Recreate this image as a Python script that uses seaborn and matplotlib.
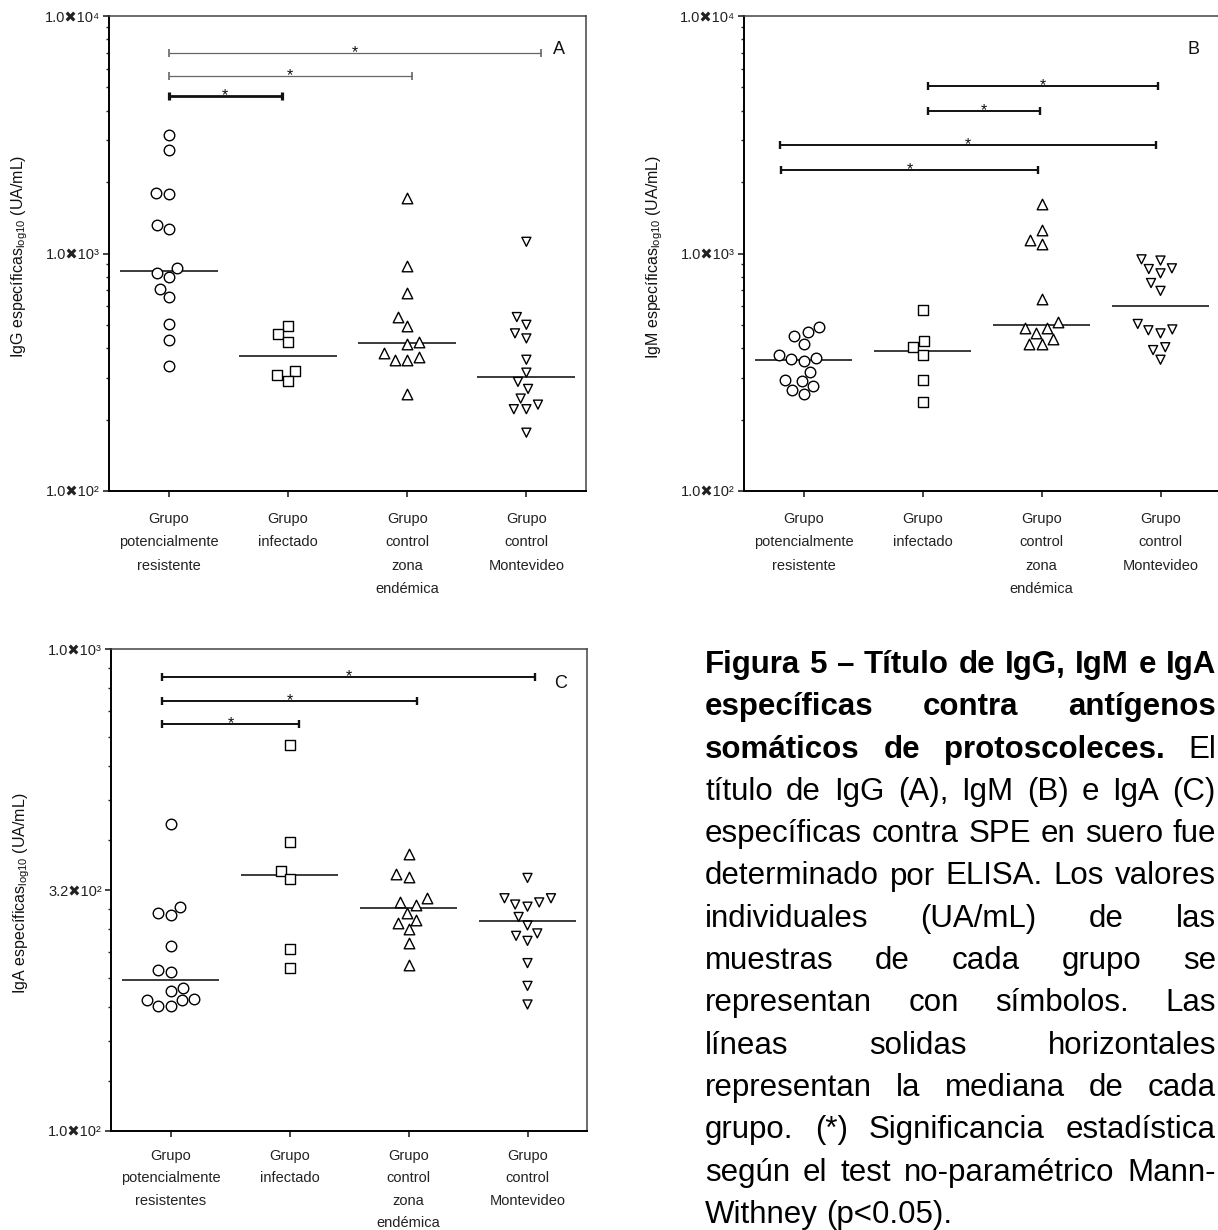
import numpy as np
import matplotlib
matplotlib.use("Agg")
import matplotlib.pyplot as plt
from matplotlib.ticker import FixedLocator, LogLocator, NullFormatter
import seaborn as sns


# DATA  (UA/mL)

GROUPS = [
    "Grupo\npotencialmente\nresistente",
    "Grupo\ninfectado",
    "Grupo\ncontrol\nzona\nendémica",
    "Grupo\ncontrol\nMontevideo",
]
GROUPS_C = [
    "Grupo\npotencialmente\nresistentes",
    "Grupo\ninfectado",
    "Grupo\ncontrol\nzona\nendémica",
    "Grupo\ncontrol\nMontevideo",
]

igg_resistente = [3150, 2720, 1795, 1785, 1320, 1270, 866, 828, 794, 707, 653, 505, 434, 335]
igg_infectado = [496, 456, 423, 319, 307, 290]
igg_endemica = [1720, 890, 683, 538, 496, 426, 417, 382, 366, 357, 357, 257]
igg_montevideo = [1120, 540, 501, 461, 439, 357, 315, 288, 269, 245, 231, 221, 221, 176]

igm_resistente = [492, 465, 451, 417, 373, 364, 359, 354, 316, 294, 290, 276, 267, 256]
igm_infectado = [576, 428, 403, 373, 292, 236]
igm_endemica = [1609, 1254, 1137, 1099, 645, 514, 488, 488, 461, 436, 417, 415]
igm_montevideo = [945, 934, 866, 860, 825, 751, 696, 505, 479, 475, 461, 403, 392, 357]

iga_resistente = [434, 291, 283, 280, 242, 216, 214, 198, 195, 188, 187, 187, 182, 182]
iga_infectado = [632, 397, 347, 333, 239, 218]
iga_endemica = [376, 341, 336, 304, 298, 295, 284, 274, 270, 262, 245, 221]
iga_montevideo = [335, 304, 304, 298, 295, 292, 278, 267, 257, 254, 248, 223, 200, 183]

# significance brackets: (from, to, height)
sig_igg = [(0.0, 0.95, 4590), (0.0, 2.04, 5590), (0.0, 3.12, 6960)]
sig_igm = [(1.05, 2.98, 5070), (1.05, 1.99, 3970), (-0.20, 2.96, 2870), (-0.19, 1.97, 2250)]
sig_iga = [(-0.07, 3.06, 875), (-0.07, 2.07, 781), (-0.07, 1.08, 700)]

YT_AB = [1e2, 1e3, 1e4]
YTL_AB = ["1.0✖10²", "1.0✖10³", "1.0✖10⁴"]
YT_C = [100, 316.2, 1000]
YTL_C = ["1.0✖10²", "3.2✖10²", "1.0✖10³"]

CAPTION = [
    ("Figura 5 – Título de IgG, IgM e IgA", ""),
    ("específicas contra antígenos", ""),
    ("somáticos de protoscoleces.", "El"),
    ("", "título de IgG (A), IgM (B) e IgA (C)"),
    ("", "específicas contra SPE en suero fue"),
    ("", "determinado por ELISA. Los valores"),
    ("", "individuales (UA/mL) de las"),
    ("", "muestras de cada grupo se"),
    ("", "representan con símbolos. Las"),
    ("", "líneas solidas horizontales"),
    ("", "representan la mediana de cada"),
    ("", "grupo. (*) Significancia estadística"),
    ("", "según el test no-paramétrico Mann-"),
    ("", "Withney (p<0.05)."),
]


# STYLE

MARKERS = ["o", "s", "^", "v"]
MARKER_S = {"o": 30, "s": 28, "^": 42, "v": 42}

sns.set_style("ticks")
plt.rcParams["font.family"] = ["Liberation Sans", "DejaVu Sans"]
plt.rcParams["mathtext.fontset"] = "custom"
plt.rcParams["mathtext.rm"] = "Liberation Sans"
plt.rcParams["mathtext.default"] = "regular"

W, H = 1218, 1230
fig = plt.figure(figsize=(W / 100, H / 100), dpi=100)


def px_axes(left, top, right, bottom):
    return fig.add_axes([left / W, 1 - bottom / H, (right - left) / W, (bottom - top) / H])


swarms = []


def draw_panel(ax, groups, series, ylim, yticks, yticklabels, yminor, ylabel,
               sigs, sig_lw, sig_col, letter):
    ax.set_yscale("log")
    for i, (name, vals, mk) in enumerate(zip(groups, series, MARKERS)):
        sns.swarmplot(x=[name] * len(vals), y=vals, order=groups, ax=ax,
                      marker=mk, size=7.6, linewidth=1.0, color="white",
                      edgecolor="black", zorder=3)
        swarms.append((ax.collections[-1], mk))
        ax.hlines(np.median(vals), i - 0.41, i + 0.41, color="#1a1a1a", lw=1.2, zorder=2)

    # significance brackets
    for (x0, x1, y), lw, col in zip(sigs, sig_lw, sig_col):
        ax.plot([x0, x1], [y, y], color=col, lw=lw, solid_capstyle="butt")
        ax.plot([x0, x1], [y, y], ls="none", marker="|", ms=6, mew=lw + 0.3, color=col)
        ax.annotate("*", ((x0 + x1) / 2, y), xytext=(0, -3), textcoords="offset points",
                    ha="center", va="baseline", fontsize=11.5, color="#111")

    ax.set_xlim(-0.5, 3.5)
    ax.set_ylim(*ylim)
    ax.yaxis.set_major_locator(FixedLocator(yticks))
    ax.set_yticklabels(yticklabels)
    ax.yaxis.set_minor_locator(yminor)
    ax.yaxis.set_minor_formatter(NullFormatter())
    ax.set_xticks(range(len(groups)))
    ax.set_xticklabels(groups, linespacing=1.85)
    ax.set_xlabel("")
    ax.set_ylabel(ylabel, fontsize=11.5, color="#111")
    ax.yaxis.set_label_coords(-0.165, 0.493)

    ax.tick_params(axis="y", which="major", direction="out", length=4.5, width=1.2,
                   labelsize=10.5, pad=2, labelcolor="#222")
    ax.tick_params(axis="y", which="minor", direction="out", length=2.5, width=1.0)
    ax.tick_params(axis="x", direction="out", length=4, width=1.2, labelsize=10.5,
                   pad=11, labelcolor="#222")
    for side in ["top", "right"]:
        ax.spines[side].set_color("#444")
        ax.spines[side].set_linewidth(1.1)
    for side in ["left", "bottom"]:
        ax.spines[side].set_color("black")
        ax.spines[side].set_linewidth(1.4)

    ax.text(0.944, 0.929, letter, transform=ax.transAxes, fontsize=13,
            ha="center", va="center", color="#111")


# PANELS

ax_a = px_axes(109, 16, 586, 491)
draw_panel(ax_a, GROUPS,
           [igg_resistente, igg_infectado, igg_endemica, igg_montevideo],
           (1e2, 1e4), YT_AB, YTL_AB, LogLocator(base=10, subs=np.arange(2, 10)),
           "IgG específicas$_{log10}$ (UA/mL)",
           sig_igg, [2.0, 0.9, 0.9], ["#111", "#666", "#666"], "A")

ax_b = px_axes(744, 16, 1220, 491)
draw_panel(ax_b, GROUPS,
           [igm_resistente, igm_infectado, igm_endemica, igm_montevideo],
           (1e2, 1e4), YT_AB, YTL_AB, LogLocator(base=10, subs=np.arange(2, 10)),
           "IgM específicas$_{log10}$ (UA/mL)",
           sig_igm, [1.4] * 4, ["#111"] * 4, "B")

minor_c = np.concatenate([np.linspace(YT_C[0], YT_C[1], 9)[1:-1],
                          np.linspace(YT_C[1], YT_C[2], 9)[1:-1]])
ax_c = px_axes(111, 649, 587, 1131)
draw_panel(ax_c, GROUPS_C,
           [iga_resistente, iga_infectado, iga_endemica, iga_montevideo],
           (100, 1000), YT_C, YTL_C, FixedLocator(minor_c),
           "IgA específicas$_{log10}$ (UA/mL)",
           sig_iga, [1.4] * 3, ["#111"] * 3, "C")
# keep the last label line of C inside the canvas
ax_c.tick_params(axis="x", pad=9)
ax_c.set_xticklabels(GROUPS_C, linespacing=1.75)


# CAPTION (justified, words placed one by one)

CAP_FS = 22.5
cap_left, cap_right = 705, 1216
cap_base0, cap_step = 673, 42.3

renderer = fig.canvas.get_renderer()
space_px = 0.278 * CAP_FS * 100 / 72
for i, (bold_part, reg_part) in enumerate(CAPTION):
    words = [(w, "bold") for w in bold_part.split()] + [(w, "normal") for w in reg_part.split()]
    y = 1 - (cap_base0 + i * cap_step) / H
    arts = [fig.text(0, y, w, fontsize=CAP_FS, fontweight=fw, va="baseline", ha="left",
                     color="black") for w, fw in words]
    widths = [a.get_window_extent(renderer).width for a in arts]
    if i < len(CAPTION) - 1 and len(arts) > 1:
        gap = (cap_right - cap_left - sum(widths)) / (len(arts) - 1)
    else:
        gap = space_px
    x = cap_left
    for a, w in zip(arts, widths):
        a.set_x(x / W)
        x += w + gap


# swarm positions are computed at draw time with the wider spacing,
# then frozen and the markers shrunk to their real size
fig.canvas.draw()
for coll, mk in swarms:
    if "draw" in vars(coll):
        del coll.draw
    coll.set_sizes([MARKER_S[mk]])
    coll.set_facecolor("none")
    coll.set_edgecolor("black")
    coll.set_linewidth(1.0)

fig.savefig("out.png", dpi=100)
